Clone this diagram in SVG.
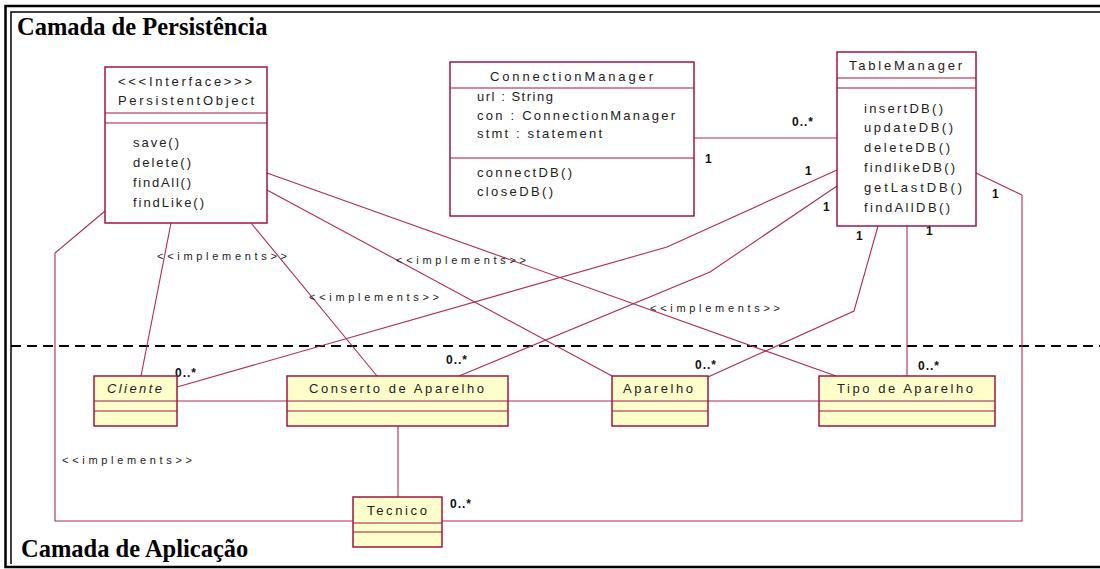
<svg xmlns="http://www.w3.org/2000/svg" width="1100" height="569" viewBox="0 0 1100 569">
<style>
.frame{fill:none;stroke:#000}
.cls{fill:#fff;stroke:#a3163f;stroke-width:1.5}
.app{fill:#ffffcc;stroke:#a3163f;stroke-width:1.5}
.sep{stroke:#a3163f;stroke-width:1.2}
.con{fill:none;stroke:#b02a58;stroke-width:1.1}
.t{font-family:"Liberation Sans",Arial,sans-serif;font-size:13px;fill:#222}
.ti{font-family:"Liberation Sans",Arial,sans-serif;font-size:13px;fill:#222;font-style:italic}
.m{font-family:"Liberation Sans",Arial,sans-serif;font-size:12px;font-weight:bold;fill:#111;letter-spacing:1px}
.lbl{font-family:"Liberation Sans",Arial,sans-serif;font-size:11px;fill:#222}
.title{font-family:"Liberation Serif","Times New Roman",serif;font-size:24.5px;font-weight:bold;fill:#000}
</style>
<rect x="0" y="0" width="1100" height="569" fill="#fff"/>
<g id="frame">
<path class="frame" d="M1100,6 H5.5 V567 H1100" stroke-width="2.5"/>
<path class="frame" d="M1100,12 H11 V564" stroke-width="1.5"/>
<line x1="11" y1="346" x2="1100" y2="346" stroke="#000" stroke-width="2" stroke-dasharray="10 6"/>
<text class="title" x="17" y="35">Camada de Persistência</text>
<text class="title" x="21" y="557">Camada de Aplicação</text>
</g>
<g id="connectors">
<polyline class="con" points="976,173 1022,195 1022,521 55,521 55,253 105,211"/>
<line class="con" x1="171" y1="223" x2="141" y2="376"/>
<line class="con" x1="251" y1="223" x2="377" y2="376"/>
<line class="con" x1="267" y1="190" x2="612" y2="376"/>
<line class="con" x1="267" y1="173" x2="836" y2="376"/>
<line class="con" x1="694" y1="138" x2="837" y2="138"/>
<polyline class="con" points="177,387 667,247 837,170"/>
<polyline class="con" points="459,376 710,272 837,186"/>
<polyline class="con" points="708,377 854,311 878,226"/>
<line class="con" x1="907" y1="226" x2="907" y2="376"/>
<line class="con" x1="177" y1="401" x2="819" y2="401"/>
<line class="con" x1="398" y1="426" x2="398" y2="497"/>
<text class="lbl" x="157" y="260" textLength="130" lengthAdjust="spacing">&lt;&lt;implements&gt;&gt;</text>
<text class="lbl" x="309" y="301" textLength="130" lengthAdjust="spacing">&lt;&lt;implements&gt;&gt;</text>
<text class="lbl" x="396" y="264" textLength="130" lengthAdjust="spacing">&lt;&lt;implements&gt;&gt;</text>
<text class="lbl" x="650" y="312" textLength="130" lengthAdjust="spacing">&lt;&lt;implements&gt;&gt;</text>
<text class="lbl" x="62" y="464" textLength="130" lengthAdjust="spacing">&lt;&lt;implements&gt;&gt;</text>
<text class="m" x="792" y="126">0..*</text>
<text class="m" x="175" y="377">0..*</text>
<text class="m" x="446" y="364">0..*</text>
<text class="m" x="695" y="369">0..*</text>
<text class="m" x="918" y="370">0..*</text>
<text class="m" x="450" y="508">0..*</text>
<text class="m" x="705" y="163">1</text>
<text class="m" x="805" y="175">1</text>
<text class="m" x="823" y="211">1</text>
<text class="m" x="992" y="198">1</text>
<text class="m" x="856" y="240">1</text>
<text class="m" x="926" y="235">1</text>
</g>
<g id="PersistentObject">
<rect class="cls" x="105" y="67" width="162" height="156"/>
<line class="sep" x1="105" y1="113" x2="267" y2="113"/>
<line class="sep" x1="105" y1="123" x2="267" y2="123"/>
<text class="t" x="118" y="86" textLength="134" lengthAdjust="spacing">&lt;&lt;&lt;Interface&gt;&gt;&gt;</text>
<text class="t" x="118" y="105" textLength="136" lengthAdjust="spacing">PersistentObject</text>
<text class="t" x="133" y="147" textLength="46" lengthAdjust="spacing">save()</text>
<text class="t" x="133" y="167" textLength="58" lengthAdjust="spacing">delete()</text>
<text class="t" x="133" y="187" textLength="58" lengthAdjust="spacing">findAll()</text>
<text class="t" x="133" y="207" textLength="71" lengthAdjust="spacing">findLike()</text>
</g>
<g id="ConnectionManager">
<rect class="cls" x="450" y="62" width="244" height="154"/>
<line class="sep" x1="450" y1="88" x2="694" y2="88"/>
<line class="sep" x1="450" y1="158" x2="694" y2="158"/>
<text class="t" x="490" y="81" textLength="163" lengthAdjust="spacing">ConnectionManager</text>
<text class="t" x="477" y="101" textLength="76" lengthAdjust="spacing">url : String</text>
<text class="t" x="477" y="120" textLength="198" lengthAdjust="spacing">con : ConnectionManager</text>
<text class="t" x="477" y="138" textLength="125" lengthAdjust="spacing">stmt : statement</text>
<text class="t" x="477" y="177" textLength="95" lengthAdjust="spacing">connectDB()</text>
<text class="t" x="477" y="196" textLength="76" lengthAdjust="spacing">closeDB()</text>
</g>
<g id="TableManager">
<rect class="cls" x="837" y="52" width="139" height="174"/>
<line class="sep" x1="837" y1="78" x2="976" y2="78"/>
<line class="sep" x1="837" y1="88" x2="976" y2="88"/>
<text class="t" x="849" y="70" textLength="113" lengthAdjust="spacing">TableManager</text>
<text class="t" x="864" y="113" textLength="79" lengthAdjust="spacing">insertDB()</text>
<text class="t" x="864" y="132" textLength="89" lengthAdjust="spacing">updateDB()</text>
<text class="t" x="864" y="152" textLength="86" lengthAdjust="spacing">deleteDB()</text>
<text class="t" x="864" y="172" textLength="91" lengthAdjust="spacing">findlikeDB()</text>
<text class="t" x="864" y="192" textLength="98" lengthAdjust="spacing">getLastDB()</text>
<text class="t" x="864" y="212" textLength="86" lengthAdjust="spacing">findAllDB()</text>
</g>
<g id="Cliente">
<rect class="app" x="94" y="376" width="83" height="50"/>
<line class="sep" x1="94" y1="401" x2="177" y2="401"/>
<line class="sep" x1="94" y1="411" x2="177" y2="411"/>
<text class="ti" x="107" y="393" textLength="55" lengthAdjust="spacing">Cliente</text>
</g>
<g id="ConsertoDeAparelho">
<rect class="app" x="287" y="376" width="221" height="50"/>
<line class="sep" x1="287" y1="401" x2="508" y2="401"/>
<line class="sep" x1="287" y1="411" x2="508" y2="411"/>
<text class="t" x="309" y="393" textLength="175" lengthAdjust="spacing">Conserto de Aparelho</text>
</g>
<g id="Aparelho">
<rect class="app" x="612" y="376" width="96" height="50"/>
<line class="sep" x1="612" y1="401" x2="708" y2="401"/>
<line class="sep" x1="612" y1="411" x2="708" y2="411"/>
<text class="t" x="623" y="393" textLength="70" lengthAdjust="spacing">Aparelho</text>
</g>
<g id="TipoDeAparelho">
<rect class="app" x="819" y="376" width="176" height="50"/>
<line class="sep" x1="819" y1="401" x2="995" y2="401"/>
<line class="sep" x1="819" y1="411" x2="995" y2="411"/>
<text class="t" x="837" y="393" textLength="136" lengthAdjust="spacing">Tipo de Aparelho</text>
</g>
<g id="Tecnico">
<rect class="app" x="353" y="497" width="89" height="50"/>
<line class="sep" x1="353" y1="523" x2="442" y2="523"/>
<line class="sep" x1="353" y1="532" x2="442" y2="532"/>
<text class="t" x="367" y="515" textLength="60" lengthAdjust="spacing">Tecnico</text>
</g>
</svg>
